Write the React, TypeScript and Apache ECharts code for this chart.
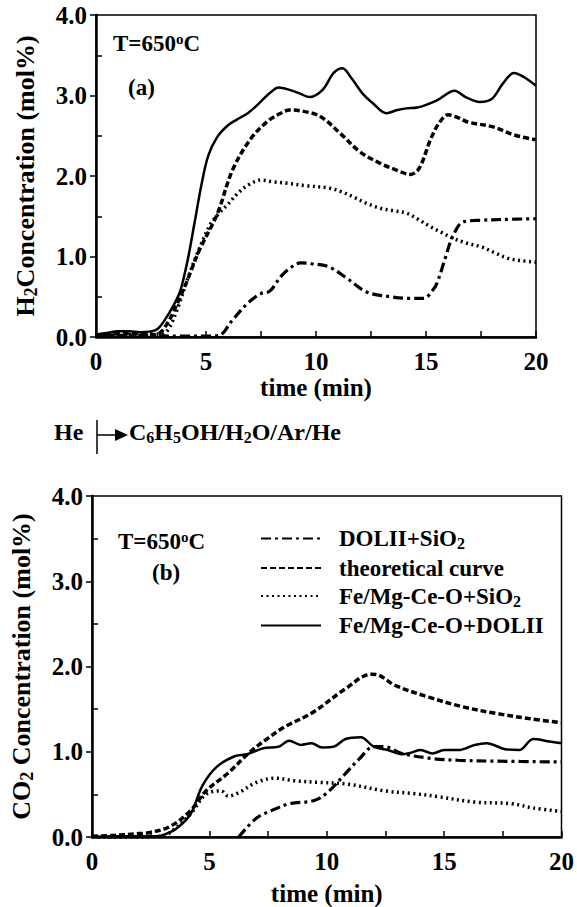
import React, { useEffect, useRef } from "react";
import * as echarts from "echarts";

const FONT = "Liberation Serif";

const seriesNames = ["DOLII+SiO2", "theoretical curve", "Fe/Mg-Ce-O+SiO2", "Fe/Mg-Ce-O+DOLII"];
const legendLabels = [
  "{n|DOLII+SiO}{s|2}",
  "{n|theoretical curve}",
  "{n|Fe/Mg-Ce-O+SiO}{s|2}",
  "{n|Fe/Mg-Ce-O+DOLII}",
];

// Panel (a): H2 concentration (mol%) vs time (min)
const h2SolidT = [0, 0.5, 1, 1.5, 2, 2.5, 2.8, 3.1, 3.5, 3.8, 4.0, 4.2, 4.5, 4.8, 5.1, 5.5, 6.0, 6.4, 6.9, 7.4, 7.9, 8.3, 8.8, 9.3, 9.7, 10.3, 10.8, 11.2, 11.6, 12.1, 12.6, 13.2, 13.7, 14.1, 14.6, 15.5, 16.3, 16.8, 17.45, 18.0, 18.5, 19.0, 19.5, 20];
const h2SolidV = [0.03, 0.05, 0.07, 0.07, 0.06, 0.07, 0.1, 0.2, 0.38, 0.55, 0.75, 1.0, 1.45, 1.9, 2.25, 2.48, 2.63, 2.7, 2.78, 2.9, 3.03, 3.1, 3.07, 3.02, 2.98, 3.07, 3.28, 3.34, 3.22, 3.03, 2.9, 2.78, 2.82, 2.84, 2.85, 2.94, 3.06, 2.98, 2.92, 2.96, 3.15, 3.28, 3.22, 3.12];

const h2DashT = [0, 1, 2, 2.6, 2.9, 3.2, 3.5, 4.1, 4.7, 5.5, 6.2, 7.0, 7.8, 8.4, 8.8, 9.5, 10.2, 11.1, 12.0, 12.9, 13.6, 14.3, 14.7, 15.2, 15.6, 16.0, 16.5, 16.9, 18.05, 19.0, 20];
const h2DashV = [0.02, 0.04, 0.04, 0.03, 0.05, 0.15, 0.3, 0.67, 1.08, 1.52, 2.07, 2.45, 2.68, 2.78, 2.82, 2.8, 2.74, 2.53, 2.3, 2.16, 2.08, 2.02, 2.1, 2.45, 2.66, 2.76, 2.72, 2.67, 2.61, 2.51, 2.45];

const h2DotT = [0, 2, 3, 3.3, 3.7, 4.2, 4.7, 5.2, 5.6, 6.0, 6.5, 7.0, 7.5, 8.0, 8.7, 9.5, 10.6, 11.2, 11.7, 12.3, 12.9, 13.5, 14.1, 14.6, 15.2, 15.7, 16.2, 16.8, 17.5, 18.1, 18.7, 19.3, 20];
const h2DotV = [0.02, 0.03, 0.04, 0.1, 0.35, 0.75, 1.1, 1.4, 1.54, 1.65, 1.8, 1.9, 1.95, 1.93, 1.91, 1.88, 1.85, 1.8, 1.74, 1.66, 1.6, 1.57, 1.54, 1.47, 1.37, 1.3, 1.23, 1.17, 1.12, 1.05, 0.98, 0.95, 0.93];

const h2DashDotT = [0, 2, 4, 5, 5.6, 6.2, 6.9, 7.5, 7.9, 8.4, 8.7, 9.3, 9.8, 10.6, 11.4, 12.3, 13.4, 14.2, 14.9, 15.3, 15.5, 15.9, 16.2, 16.7, 17.5, 18.5, 20];
const h2DashDotV = [0.02, 0.02, 0.01, 0.01, 0.02, 0.21, 0.42, 0.54, 0.57, 0.75, 0.83, 0.92, 0.91, 0.87, 0.73, 0.56, 0.5, 0.48, 0.48, 0.58, 0.67, 1.0, 1.24, 1.43, 1.45, 1.46, 1.47];

// Panel (b): CO2 concentration (mol%) vs time (min)
const co2SolidT = [0, 1, 2, 2.8, 3.1, 3.6, 4.2, 4.7, 5.3, 6.1, 6.6, 7.3, 7.96, 8.4, 8.9, 9.35, 9.8, 10.3, 10.8, 11.45, 12.0, 12.6, 13.2, 13.6, 14.0, 14.5, 15.0, 15.6, 16.3, 16.8, 17.6, 18.2, 18.8, 19.5, 20];
const co2SolidV = [0, 0.01, 0.01, 0.01, 0.03, 0.1, 0.27, 0.6, 0.82, 0.95, 0.97, 1.04, 1.06, 1.13, 1.08, 1.1, 1.05, 1.06, 1.15, 1.17, 1.06, 1.02, 0.97, 0.99, 1.02, 0.98, 1.02, 1.02, 1.08, 1.1, 1.03, 1.02, 1.15, 1.12, 1.1];

const co2DashT = [0, 1, 2, 2.4, 3.3, 4.2, 4.85, 5.8, 6.7, 7.4, 8.2, 9.4, 10.8, 11.9, 12.2, 12.9, 14.35, 15.75, 17.2, 18.6, 20];
const co2DashV = [0.01, 0.02, 0.04, 0.05, 0.12, 0.31, 0.54, 0.75, 0.99, 1.14, 1.29, 1.46, 1.74, 1.91, 1.9, 1.78, 1.64, 1.53, 1.45, 1.39, 1.34];

const co2DotT = [0, 2, 3, 3.45, 4.2, 4.85, 5.5, 5.8, 6.25, 7.0, 7.8, 8.6, 9.7, 10.9, 12.5, 13.7, 14.8, 16.3, 17.9, 18.8, 20];
const co2DotV = [0, 0, 0.01, 0.08, 0.27, 0.5, 0.54, 0.48, 0.52, 0.64, 0.69, 0.66, 0.64, 0.62, 0.54, 0.51, 0.47, 0.41, 0.39, 0.34, 0.3];

const co2DashDotT = [6.25, 7.0, 7.65, 8.4, 9.5, 10.1, 10.75, 11.4, 12.0, 12.45, 13.2, 14.5, 15.6, 17.2, 20];
const co2DashDotV = [0, 0.22, 0.31, 0.39, 0.43, 0.54, 0.73, 0.92, 1.06, 1.06, 0.98, 0.92, 0.9, 0.89, 0.88];

const zip = (t: number[], v: number[]) => t.map((x, i) => [x, v[i]]);

const richBase = (size: number) => ({
  n: { fontFamily: FONT, fontWeight: "bold", fontSize: size, color: "#000" },
  s: { fontFamily: FONT, fontWeight: "bold", fontSize: Math.round(size * 0.68), color: "#000", padding: [Math.round(size * 0.42), 0, 0, 0] },
  p: { fontFamily: FONT, fontWeight: "bold", fontSize: Math.round(size * 0.64), color: "#000", padding: [0, 0, Math.round(size * 0.45), 0] },
});

const styles = [
  { type: [10, 4, 3, 4], width: 3.2 },
  { type: [6, 3], width: 3.5 },
  { type: [2, 3.5], width: 3.5 },
  { type: "solid", width: 2.5 },
];

function makeX(gridIndex: number, nameGap: number) {
  return {
    type: "value",
    gridIndex,
    min: 0,
    max: 20,
    interval: 5,
    name: "time (min)",
    nameLocation: "middle",
    nameGap,
    nameTextStyle: { fontFamily: FONT, fontWeight: "bold", fontSize: 25, color: "#000" },
    axisLine: { show: true, onZero: false, lineStyle: { color: "#000", width: 2.5 } },
    axisTick: { show: true, inside: true, length: 6, lineStyle: { color: "#000", width: 1.5 } },
    minorTick: { show: true, splitNumber: 2, length: 6, lineStyle: { color: "#000", width: 1.5 } },
    axisLabel: { fontFamily: FONT, fontWeight: "bold", fontSize: 25, color: "#000", margin: 12 },
    splitLine: { show: false },
  };
}

function makeY(gridIndex: number, name: string) {
  return [
    {
      type: "value",
      gridIndex,
      min: 0,
      max: 4,
      interval: 1,
      name,
      nameLocation: "middle",
      nameGap: 56,
      nameTextStyle: { rich: richBase(26) },
      axisLine: { show: true, onZero: false, lineStyle: { color: "#000", width: 2.5 } },
      axisTick: { show: true, inside: false, length: 6, lineStyle: { color: "#000", width: 1.5 } },
      axisLabel: { fontFamily: FONT, fontWeight: "bold", fontSize: 25, color: "#000", margin: 9, formatter: (v: number) => v.toFixed(1) },
      splitLine: { show: false },
    },
    {
      type: "value",
      gridIndex,
      min: 0,
      max: 4,
      interval: 0.5,
      position: "left",
      axisLine: { show: false },
      axisTick: { show: true, inside: true, length: 6, customValues: [0.5, 1.5, 2.5, 3.5], lineStyle: { color: "#000", width: 1.5 } },
      axisLabel: { show: false },
      splitLine: { show: false },
    },
  ];
}

function seriesFor(data: number[][][], xAxisIndex: number, yAxisIndex: number) {
  return data.map((d, i) => ({
    name: seriesNames[i],
    type: "line",
    xAxisIndex,
    yAxisIndex,
    data: d,
    smooth: 0.35,
    symbol: "none",
    showSymbol: false,
    color: "#000",
    lineStyle: { color: "#000", width: styles[i].width, type: styles[i].type, cap: "butt" },
    z: 3,
  }));
}

export default function App() {
  const ref = useRef<HTMLDivElement>(null);
  useEffect(() => {
    if (!ref.current) return;
    const chart = echarts.init(ref.current, null, { renderer: "svg" });
    const topData = [zip(h2DashDotT, h2DashDotV), zip(h2DashT, h2DashV), zip(h2DotT, h2DotV), zip(h2SolidT, h2SolidV)];
    const botData = [zip(co2DashDotT, co2DashDotV), zip(co2DashT, co2DashV), zip(co2DotT, co2DotV), zip(co2SolidT, co2SolidV)];
    const ya = makeY(0, "{n|H}{s|2}{n|Concentration (mol%)}");
    const yb = makeY(1, "{n|CO}{s|2}{n| Concentration (mol%)}");
    chart.setOption({
      animation: false,
      backgroundColor: "#fff",
      grid: [
        { left: 96, top: 15, width: 440, height: 322, show: true, borderColor: "#000", borderWidth: 1.5, backgroundColor: "transparent" },
        { left: 92, top: 496, width: 471, height: 347, show: true, borderColor: "#000", borderWidth: 1.5, backgroundColor: "transparent" },
      ],
      xAxis: [makeX(0, 37), makeX(1, 44)],
      yAxis: [...ya, ...yb],
      legend: {
        show: true,
        orient: "vertical",
        left: 255,
        top: 522,
        itemWidth: 60,
        itemHeight: 14,
        itemGap: 5,
        data: seriesNames,
        formatter: (name: string) => legendLabels[seriesNames.indexOf(name)],
        itemStyle: { color: "rgba(0,0,0,0)", borderColor: "rgba(0,0,0,0)", borderWidth: 0, opacity: 0 },
        textStyle: { padding: [0, 0, 0, 13], rich: richBase(23) },
        selectedMode: false,
      },
      graphic: [
        { type: "text", left: 113, top: 31, style: { text: "{n|T=650}{p|o}{n|C}", rich: richBase(23) } },
        { type: "text", left: 128, top: 76, style: { text: "{n|(a)}", rich: richBase(23) } },
        { type: "text", left: 118, top: 529, style: { text: "{n|T=650}{p|o}{n|C}", rich: richBase(23) } },
        { type: "text", left: 152, top: 561, style: { text: "{n|(b)}", rich: richBase(23) } },
        { type: "text", left: 54, top: 420, style: { text: "{n|He}", rich: richBase(24) } },
        { type: "line", shape: { x1: 97, y1: 420, x2: 97, y2: 454 }, style: { stroke: "#000", lineWidth: 1.5 } },
        { type: "line", shape: { x1: 97, y1: 435, x2: 117, y2: 435 }, style: { stroke: "#000", lineWidth: 1.5 } },
        { type: "polygon", shape: { points: [[115, 429], [128, 435], [115, 441]] }, style: { fill: "#000" } },
        { type: "text", left: 129, top: 420, style: { text: "{n|C}{s|6}{n|H}{s|5}{n|OH/H}{s|2}{n|O/Ar/He}", rich: richBase(24) } },
      ],
      series: [...seriesFor(topData, 0, 0), ...seriesFor(botData, 1, 2)],
    });
    return () => chart.dispose();
  }, []);
  return <div ref={ref} style={{ position: "absolute", left: 0, top: 0, width: 577, height: 907, background: "#fff" }} />;
}
